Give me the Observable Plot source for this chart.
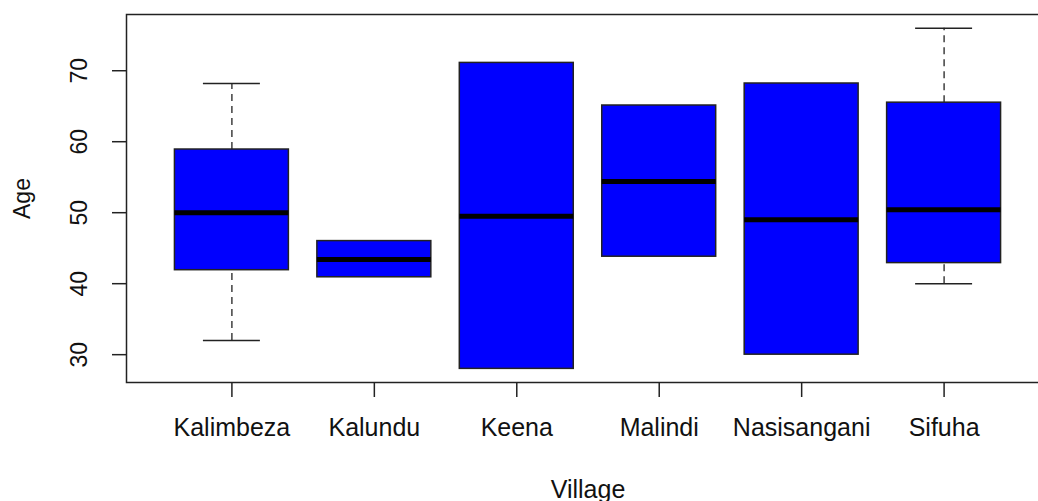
<!DOCTYPE html>
<html>
<head>
<meta charset="utf-8">
<script src="https://cdn.jsdelivr.net/npm/d3@7"></script>
<script src="https://cdn.jsdelivr.net/npm/@observablehq/plot@0.6"></script>
<style>
  html, body { margin: 0; padding: 0; background: #fff; overflow: hidden; width: 1038px; height: 501px; }
  #chart { width: 1038px; height: 501px; overflow: hidden; }
  #chart svg { display: block; max-width: none !important; width: 1050px !important; height: 501px !important; }
</style>
</head>
<body>
<div id="chart"></div>
<script>
const villages = ["Kalimbeza", "Kalundu", "Keena", "Malindi", "Nasisangani", "Sifuha"];
const whiskerLow = [32, 40.9, 28, 43.8, 30, 40];
const q1 = [41.9, 40.9, 28, 43.8, 30, 42.9];
const median = [50, 43.4, 49.5, 54.4, 49, 50.4];
const q3 = [58.9, 46, 71.1, 65.1, 68.2, 65.5];
const whiskerHigh = [68.2, 46, 71.1, 65.1, 68.2, 76];
const yTicks = [30, 40, 50, 60, 70];
const xLabel = "Village";
const yLabel = "Age";

const rows = villages.map((v, i) => ({
  pos: i + 1, village: v,
  lo: whiskerLow[i], q1: q1[i], med: median[i], q3: q3[i], hi: whiskerHigh[i]
}));
const whiskered = rows.filter(d => d.lo < d.q1 || d.hi > d.q3);

const n = villages.length;
const xr = [0.5, n + 0.5];
const xpad = (xr[1] - xr[0]) * 0.04;
const ymin = d3.min(whiskerLow), ymax = d3.max(whiskerHigh);
const ypad = (ymax - ymin) * 0.04;

const font = "'Liberation Sans', Arial, sans-serif";
const ink = "#222";

const chart = Plot.plot({
  width: 1050,
  height: 501,
  marginLeft: 126,
  marginRight: 1,
  marginTop: 14,
  marginBottom: 119,
  style: { fontFamily: font, background: "#fff", overflow: "visible", maxWidth: "none" },
  x: { domain: [xr[0] - xpad, xr[1] + xpad] },
  y: { domain: [ymin - ypad, ymax + ypad] },
  marks: [
    // whiskers (dashed)
    Plot.ruleX(whiskered, { x: "pos", y1: "q3", y2: "hi", stroke: ink, strokeWidth: 1.3, strokeDasharray: "7,5" }),
    Plot.ruleX(whiskered, { x: "pos", y1: "lo", y2: "q1", stroke: ink, strokeWidth: 1.3, strokeDasharray: "7,5" }),
    // staples
    Plot.ruleY(whiskered, { y: "hi", x1: d => d.pos - 0.2, x2: d => d.pos + 0.2, stroke: ink, strokeWidth: 1.5 }),
    Plot.ruleY(whiskered, { y: "lo", x1: d => d.pos - 0.2, x2: d => d.pos + 0.2, stroke: ink, strokeWidth: 1.5 }),
    // boxes
    Plot.rect(rows, { x1: d => d.pos - 0.4, x2: d => d.pos + 0.4, y1: "q1", y2: "q3", fill: "#0000FF", stroke: ink, strokeWidth: 1.5 }),
    // medians
    Plot.ruleY(rows, { y: "med", x1: d => d.pos - 0.4, x2: d => d.pos + 0.4, stroke: "#000", strokeWidth: 5 }),
    // frame
    Plot.frame({ stroke: ink, strokeWidth: 1.5 }),
    // axes
    Plot.axisX({ ticks: rows.map(d => d.pos), tickFormat: p => villages[p - 1], tickSize: 15, tickPadding: 21, fontSize: 25, label: null, stroke: ink, strokeWidth: 1.5, fill: "#111" }),
    Plot.axisY({ ticks: yTicks, tickSize: 14, tickFormat: () => "", label: null, stroke: ink, strokeWidth: 1.5 }),
    Plot.text(yTicks, { y: d => d, text: d => String(d), frameAnchor: "left", dx: -47, rotate: -90, fontSize: 23, textAnchor: "middle", lineAnchor: "middle", fill: "#111" }),
    Plot.text([yLabel], { text: d => d, frameAnchor: "left", dx: -104, rotate: -90, fontSize: 23, textAnchor: "middle", lineAnchor: "middle", fill: "#111" }),
    Plot.text([xLabel], { text: d => d, frameAnchor: "bottom", dy: 107, fontSize: 25, textAnchor: "middle", lineAnchor: "middle", fill: "#111" })
  ]
});
document.getElementById("chart").appendChild(chart);
</script>
</body>
</html>
